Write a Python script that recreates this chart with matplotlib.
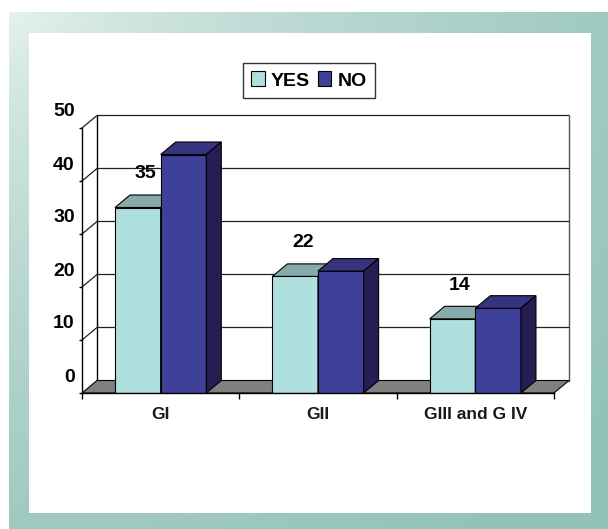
import matplotlib
matplotlib.use("Agg")
import matplotlib.pyplot as plt
import matplotlib.transforms as mtransforms
from matplotlib.patches import Polygon, Rectangle, Patch
import numpy as np

# data
categories = ["GI", "GII", "GIII and G IV"]
yes_values = [35, 22, 14]
no_values = [45, 23, 16]
yes_labels = ["35", "22", "14"]
value_ticks = [0, 10, 20, 30, 40, 50]
series_names = ["YES", "NO"]

plt.rcParams["font.family"] = ["Liberation Sans", "DejaVu Sans"]

W, H = 608, 529
fig = plt.figure(figsize=(W / 100, H / 100), dpi=100, facecolor="white")

# teal gradient frame behind the chart
bg = fig.add_axes([0, 0, 1, 1])
bg.set_xlim(0, W)
bg.set_ylim(H, 0)
bg.axis("off")
yy, xx = np.mgrid[12:H, 9:W]
t = np.clip(np.hypot(xx / W, yy / H) / 1.25, 0, 1) ** 0.6
c0 = np.array([0.94, 0.97, 0.96])
c1 = np.array([0.58, 0.765, 0.725])
img = c0 + (c1 - c0) * t[..., None]
bg.imshow(img, extent=(9, W, H, 12), origin="upper", aspect="auto")
bg.add_patch(Rectangle((29, 33), 562, 480, facecolor="white", edgecolor="none"))

# main axes: front plane of the 3D box
ax = fig.add_axes([82 / W, (H - 393) / H, 472 / W, 265 / H])
ax.set_xlim(0, 3)
ax.set_ylim(0, 50)
ax.patch.set_visible(False)
for s in ["top", "right"]:
    ax.spines[s].set_visible(False)
for s in ["left", "bottom"]:
    ax.spines[s].set_linewidth(1.0)
    ax.spines[s].set_zorder(5)

# depth offset in data units (15 px right, 12.5 px up)
DX = 15 / (472 / 3)
DY = 12.5 / (265 / 50)
ymax = value_ticks[-1]
ncat = len(categories)

# back wall, side wall and floor
ax.add_patch(Polygon([(DX, DY), (ncat + DX, DY), (ncat + DX, ymax + DY), (DX, ymax + DY)],
                     closed=True, facecolor="white", edgecolor="none", zorder=0.5, clip_on=False))
ax.plot([DX, DX], [DY, ymax + DY], color="black", lw=1.0, zorder=0.8, clip_on=False)
ax.plot([ncat + DX, ncat + DX], [DY, ymax + DY], color="#555555", lw=1.0, zorder=0.8, clip_on=False)
for v in value_ticks[1:]:
    ax.plot([0, DX, ncat + DX], [v, v + DY, v + DY], color="#222222", lw=0.9,
            zorder=0.8, clip_on=False)
ax.add_patch(Polygon([(0, 0), (ncat, 0), (ncat + DX, DY), (DX, DY)], closed=True,
                     facecolor="#808080", edgecolor="black", lw=0.8, zorder=1, clip_on=False))

# bars with top and side faces
w = 0.29
colors = {"YES": ("#b0dfe0", "#87aaab", "#6f9090"),
          "NO": ("#3f409a", "#36347f", "#261e52")}
centers = np.arange(ncat) + 0.5
for name, vals, x0s, z in [("YES", yes_values, centers - w, 3),
                           ("NO", no_values, centers, 4)]:
    front, top, side = colors[name]
    ax.bar(x0s, vals, width=w, align="edge", color=front, edgecolor="black",
           lw=0.8, zorder=z)
    for x0, v in zip(x0s, vals):
        ax.add_patch(Polygon([(x0, v), (x0 + w, v), (x0 + w + DX, v + DY), (x0 + DX, v + DY)],
                             closed=True, facecolor=top, edgecolor="black", lw=0.8,
                             zorder=z, clip_on=False))
        ax.add_patch(Polygon([(x0 + w, 0), (x0 + w + DX, DY), (x0 + w + DX, v + DY), (x0 + w, v)],
                             closed=True, facecolor=side, edgecolor="black", lw=0.8,
                             zorder=z, clip_on=False))

# value labels above the YES bars
for x0, v, lab in zip(centers - w, yes_values, yes_labels):
    ax.annotate(lab, xy=(x0 + w / 2 + DX / 2, v + DY), xytext=(0, 21), textcoords="offset pixels",
                ha="center", va="center", fontsize=14, fontweight="bold", color="black",
                zorder=6, annotation_clip=False)

# ticks
ax.set_yticks(value_ticks)
ax.set_yticklabels([str(v) for v in value_ticks], fontsize=14, fontweight="bold")
ax.tick_params(axis="y", length=2.2, width=1.0, direction="out", pad=3)
shift = mtransforms.ScaledTranslation(0, 18 / 100, fig.dpi_scale_trans)
for lab in ax.get_yticklabels():
    lab.set_transform(lab.get_transform() + shift)

ax.set_xticks(range(ncat + 1))
ax.set_xticklabels([])
ax.tick_params(axis="x", which="major", length=4.3, width=1.0, direction="out")
ax.set_xticks(centers, minor=True)
ax.set_xticklabels(categories, minor=True, fontsize=12.5, fontweight="bold", color="#1a1a1a")
ax.tick_params(axis="x", which="minor", length=0, pad=10)

# legend
handles = [Patch(facecolor=colors[n][0], edgecolor="black", lw=0.8) for n in series_names]
leg = fig.legend(handles, series_names, loc="center", bbox_to_anchor=(309 / W, 1 - 80.5 / H),
                 ncol=2, frameon=True, fancybox=False, edgecolor="black",
                 prop={"size": 14, "weight": "bold"}, handlelength=0.7, handleheight=0.8,
                 handletextpad=0.3, columnspacing=0.4, borderpad=0.45, borderaxespad=0)
leg.get_frame().set_linewidth(1.0)

fig.savefig("out.png", dpi=100, facecolor="white")
